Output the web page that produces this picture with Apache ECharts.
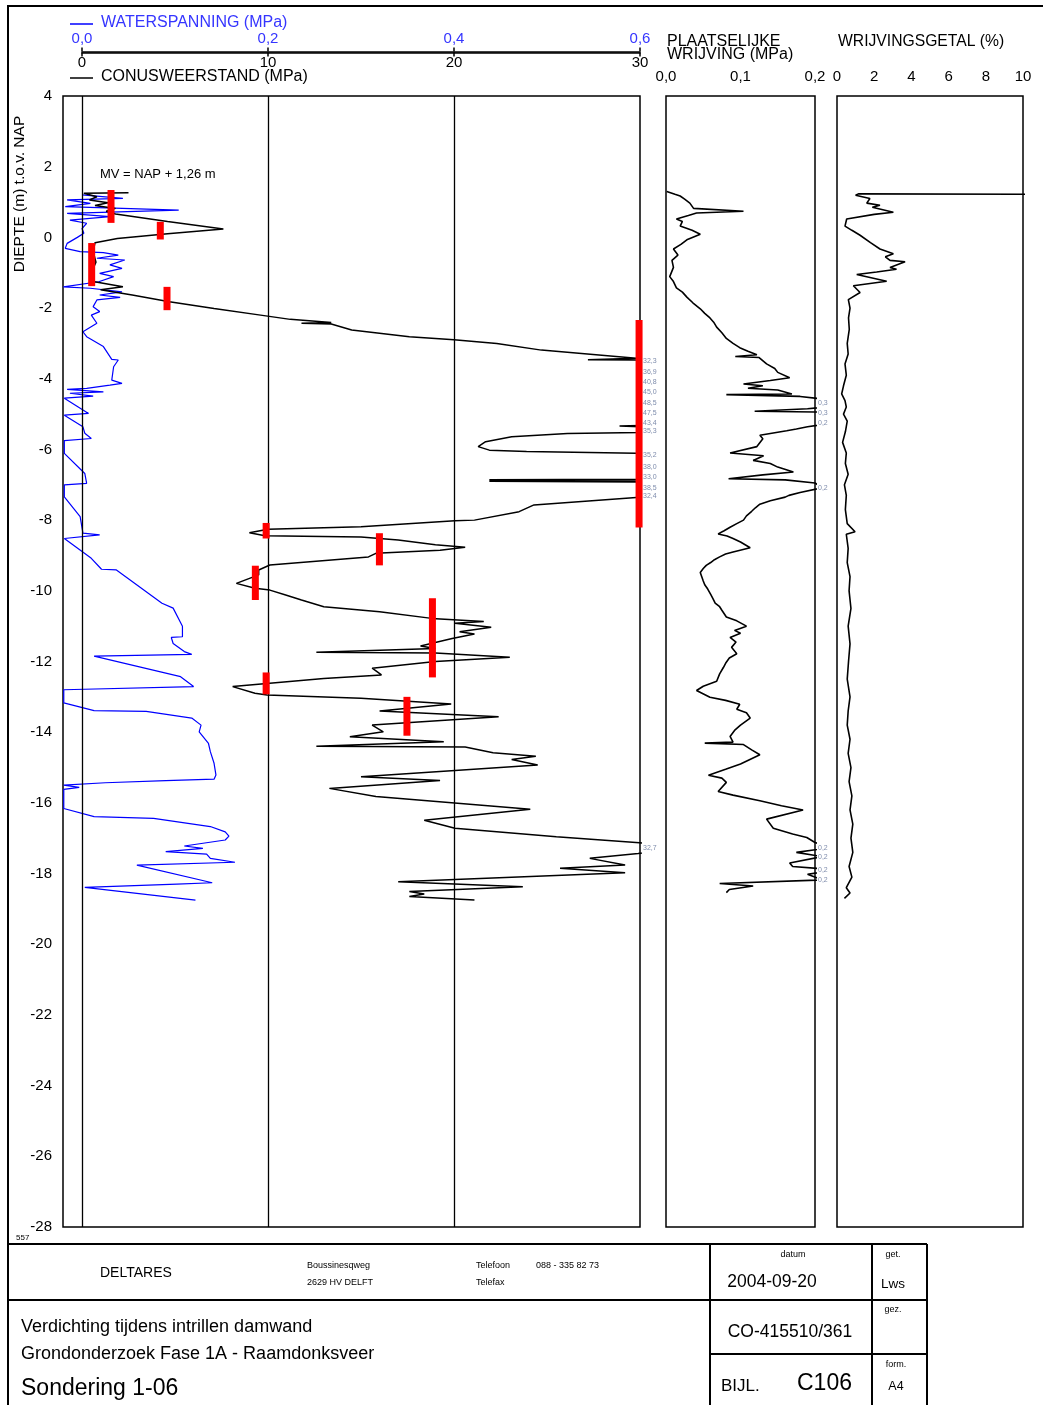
<!DOCTYPE html>
<html>
<head>
<meta charset="utf-8">
<title>Sondering 1-06</title>
<script src="https://cdn.jsdelivr.net/npm/echarts/dist/echarts.min.js"></script>
<style>
  html, body { margin: 0; padding: 0; background: #ffffff; }
  #chart { width: 1043px; height: 1405px; }
</style>
</head>
<body>
<div id="chart"></div>
<script>
// ---- Sounding data (depth in m t.o.v. NAP) ----
const surfaceLevel = 1.26;

// Depth axis
const depthMin = -28, depthMax = 4, depthStep = 2;

// Axis ranges
const qcMax = 30, qcStep = 10;        // conusweerstand (MPa)
const uMax = 0.6, uStep = 0.2;        // waterspanning (MPa)
const fsMax = 0.2, fsStep = 0.1;      // plaatselijke wrijving (MPa)
const rfMax = 10, rfStep = 2;         // wrijvingsgetal (%)

// Conusweerstand qc [MPa, depth]
const qcProfile = [
  [2.5,1.26],[0.1,1.25],[0.8,1.15],[0.4,1.06],[1.4,0.98],[0.7,0.9],[1.8,0.82],[1.3,0.74],[1.8,0.66],
  [4.6,0.45],[7.6,0.24],[4.6,0.1],[1.9,-0.03],[0.7,-0.15],[0.6,-0.4],[0.75,-0.7],[0.5,-1.0],[0.6,-1.25],
  [2.2,-1.4],[1.0,-1.48],[2.7,-1.63],[4.7,-1.82],[7.1,-2.01],[9.6,-2.2],[11.2,-2.32],[13.4,-2.41],
  [11.8,-2.43],[13.4,-2.45],[14.5,-2.62],[17.6,-2.81],[20.0,-2.9],[22.3,-3.0],[24.7,-3.19],[29.8,-3.42],
  [27.2,-3.46],[29.9,-3.47],[32.3,-3.49],[36.9,-3.8],[40.8,-4.09],[45.0,-4.38],[48.5,-4.7],[47.5,-4.96],
  [43.4,-5.26],[30,-5.32],[28.9,-5.34],[30,-5.36],[35.3,-5.47],[30,-5.52],[26.1,-5.55],[23.1,-5.64],
  [21.7,-5.78],[21.3,-5.92],[21.9,-6.02],[23.9,-6.06],[29.8,-6.11],[35.2,-6.17],[38.0,-6.49],[33.0,-6.77],
  [30,-6.84],[21.9,-6.86],[30,-6.88],[21.9,-6.9],[30,-6.92],[38.5,-7.08],[32.4,-7.33],[29.8,-7.36],
  [24.3,-7.57],[23.5,-7.76],[21.1,-8.0],[20.05,-8.02],[15.0,-8.19],[10.0,-8.26],[9.0,-8.36],[9.84,-8.44],
  [15.0,-8.48],[17.0,-8.56],[19.0,-8.7],[20.6,-8.77],[19.25,-8.85],[15.8,-8.94],[15.4,-9.04],[10.1,-9.27],
  [9.5,-9.41],[9.5,-9.55],[8.3,-9.79],[9.3,-9.93],[10.1,-9.98],[10.95,-10.12],[11.8,-10.26],[13.0,-10.45],
  [16.0,-10.59],[18.8,-10.78],[21.6,-10.87],[20.05,-10.92],[22.0,-11.03],[20.3,-11.16],[21.1,-11.22],
  [19.9,-11.35],[18.2,-11.56],[19.0,-11.63],[12.6,-11.74],[19.0,-11.76],[23.0,-11.88],[19.0,-12.0],
  [15.6,-12.19],[16.1,-12.38],[13.0,-12.48],[8.1,-12.71],[9.3,-12.9],[9.95,-12.95],[15.0,-13.04],
  [19.85,-13.2],[16.0,-13.4],[22.4,-13.56],[15.6,-13.8],[16.2,-13.99],[14.4,-14.13],[19.45,-14.27],
  [12.6,-14.4],[20.6,-14.42],[22.1,-14.58],[24.4,-14.68],[23.1,-14.77],[24.5,-14.93],[15.0,-15.26],
  [19.25,-15.37],[13.3,-15.59],[15.8,-15.82],[24.1,-16.18],[18.4,-16.49],[20.05,-16.72],[25.5,-16.96],
  [29.97,-17.13],[32.7,-17.27],[29.9,-17.43],[27.3,-17.57],[29.2,-17.76],[25.7,-17.85],[29.2,-17.98],
  [17.0,-18.23],[23.7,-18.37],[17.6,-18.51],[18.4,-18.58],[17.6,-18.65],[21.1,-18.75]
];

// Waterspanning u2 [MPa, depth]
const uProfile = [
  [0.0,1.2],[0.044,1.105],[-0.016,1.06],[0.009,0.96],[-0.018,0.87],[0.035,0.83],[0.104,0.77],[-0.016,0.68],
  [0.030,0.585],[-0.013,0.49],[0.005,0.40],[0.0,0.25],[0.002,0.115],[-0.005,0.0],[-0.016,-0.17],[-0.018,-0.31],
  [-0.002,-0.405],[0.023,-0.43],[0.039,-0.50],[0.016,-0.59],[0.046,-0.64],[0.030,-0.78],[0.043,-0.875],
  [0.019,-1.02],[0.034,-1.11],[0.018,-1.255],[-0.020,-1.40],[0.009,-1.44],[0.043,-1.54],[0.019,-1.63],
  [0.041,-1.70],[0.016,-1.77],[0.012,-1.96],[0.019,-2.10],[0.010,-2.20],[0.016,-2.43],[0.001,-2.67],
  [0.005,-2.81],[0.023,-3.09],[0.032,-3.45],[0.039,-3.47],[0.034,-3.66],[0.032,-4.04],[0.043,-4.13],
  [0.030,-4.18],[0.005,-4.27],[-0.016,-4.30],[0.023,-4.37],[-0.013,-4.41],[0.012,-4.49],[-0.019,-4.55],
  [0.007,-4.98],[-0.019,-5.03],[0.001,-5.36],[0.003,-5.54],[0.010,-5.69],[-0.019,-5.75],[-0.019,-6.11],
  [0.003,-6.68],[0.005,-6.96],[-0.019,-7.0],[-0.019,-7.34],[-0.002,-7.9],[0.001,-8.37],[0.019,-8.42],
  [-0.019,-8.52],[0.010,-9.08],[0.021,-9.39],[0.037,-9.41],[0.086,-10.35],[0.098,-10.49],[0.108,-11.0],
  [0.108,-11.30],[0.096,-11.32],[0.098,-11.49],[0.110,-11.72],[0.118,-11.80],[0.013,-11.85],[0.106,-12.43],
  [0.120,-12.71],[-0.0196,-12.80],[-0.0196,-13.17],[0.013,-13.39],[0.069,-13.41],[0.118,-13.6],[0.128,-13.8],
  [0.126,-13.99],[0.136,-14.32],[0.138,-14.55],[0.142,-14.88],[0.144,-15.21],[0.142,-15.33],[0.090,-15.37],
  [0.025,-15.43],[-0.0196,-15.50],[-0.003,-15.56],[-0.0196,-15.62],[-0.0196,-16.16],[0.013,-16.39],
  [0.077,-16.44],[0.138,-16.67],[0.154,-16.82],[0.158,-16.94],[0.154,-17.05],[0.110,-17.22],[0.130,-17.29],
  [0.090,-17.38],[0.134,-17.45],[0.138,-17.57],[0.1645,-17.68],[0.059,-17.76],[0.140,-18.26],[0.102,-18.30],
  [0.003,-18.39],[0.122,-18.75]
];

// Plaatselijke wrijving fs [MPa, depth]
const fsProfile = [
  [0.001,1.30],[0.012,1.22],[0.019,1.17],[0.025,1.08],[0.032,0.97],[0.037,0.82],[0.104,0.74],[0.041,0.69],
  [0.03,0.62],[0.014,0.52],[0.022,0.45],[0.019,0.32],[0.035,0.2],[0.046,0.09],[0.028,-0.07],[0.02,-0.2],
  [0.010,-0.33],[0.016,-0.5],[0.008,-0.65],[0.010,-0.85],[0.005,-1.11],[0.01,-1.25],[0.014,-1.43],
  [0.022,-1.55],[0.028,-1.69],[0.036,-1.85],[0.046,-2.02],[0.052,-2.15],[0.059,-2.28],[0.064,-2.4],
  [0.068,-2.54],[0.075,-2.7],[0.081,-2.86],[0.09,-3.0],[0.099,-3.12],[0.11,-3.22],[0.122,-3.32],
  [0.093,-3.37],[0.125,-3.4],[0.135,-3.58],[0.146,-3.71],[0.15,-3.82],[0.166,-3.97],[0.14,-4.05],
  [0.104,-4.15],[0.13,-4.2],[0.11,-4.27],[0.15,-4.32],[0.169,-4.43],[0.081,-4.45],[0.18,-4.5],[0.26,-4.70],
  [0.19,-4.85],[0.119,-4.92],[0.2,-4.94],[0.27,-4.96],[0.22,-5.26],[0.19,-5.36],[0.175,-5.42],[0.162,-5.47],
  [0.126,-5.6],[0.13,-5.7],[0.122,-5.92],[0.086,-6.1],[0.131,-6.18],[0.117,-6.31],[0.14,-6.4],[0.15,-6.5],
  [0.171,-6.64],[0.13,-6.72],[0.084,-6.83],[0.16,-6.86],[0.2,-6.95],[0.21,-7.08],[0.18,-7.22],[0.165,-7.3],
  [0.16,-7.35],[0.14,-7.45],[0.126,-7.55],[0.12,-7.65],[0.115,-7.75],[0.108,-7.88],[0.104,-8.0],[0.095,-8.1],
  [0.086,-8.2],[0.078,-8.3],[0.07,-8.39],[0.082,-8.45],[0.09,-8.52],[0.1,-8.62],[0.113,-8.78],[0.09,-8.9],
  [0.08,-8.96],[0.072,-9.04],[0.065,-9.12],[0.06,-9.2],[0.054,-9.28],[0.050,-9.37],[0.046,-9.48],[0.048,-9.6],
  [0.05,-9.72],[0.052,-9.83],[0.056,-9.95],[0.06,-10.1],[0.063,-10.22],[0.066,-10.35],[0.072,-10.45],
  [0.075,-10.55],[0.081,-10.74],[0.095,-10.85],[0.108,-11.0],[0.092,-11.12],[0.1,-11.2],[0.086,-11.32],
  [0.094,-11.45],[0.088,-11.6],[0.095,-11.78],[0.085,-11.9],[0.08,-12.05],[0.077,-12.17],[0.072,-12.35],
  [0.068,-12.56],[0.05,-12.7],[0.041,-12.82],[0.059,-13.01],[0.08,-13.1],[0.099,-13.21],[0.095,-13.35],
  [0.108,-13.45],[0.113,-13.6],[0.1,-13.8],[0.092,-13.95],[0.086,-14.12],[0.09,-14.28],[0.052,-14.31],
  [0.104,-14.35],[0.115,-14.5],[0.126,-14.64],[0.1,-14.9],[0.08,-15.05],[0.057,-15.22],[0.075,-15.3],
  [0.081,-15.42],[0.07,-15.68],[0.09,-15.78],[0.126,-15.94],[0.155,-16.08],[0.184,-16.2],[0.135,-16.46],
  [0.144,-16.72],[0.17,-16.88],[0.189,-16.98],[0.2,-17.12],[0.22,-17.27],[0.175,-17.4],[0.21,-17.52],
  [0.166,-17.7],[0.17,-17.8],[0.23,-17.90],[0.19,-18.02],[0.21,-18.18],[0.072,-18.28],[0.117,-18.35],
  [0.085,-18.45],[0.081,-18.54]
];

// Wrijvingsgetal Rf [%, depth]
const rfProfile = [
  [12,1.22],[1.15,1.23],[1.0,1.19],[1.77,1.10],[1.6,0.97],[2.31,0.91],[1.9,0.85],[3.03,0.71],[2.0,0.65],
  [0.52,0.52],[0.43,0.32],[0.8,0.2],[1.24,0.06],[1.8,-0.15],[2.31,-0.33],[3.03,-0.46],[2.6,-0.55],
  [2.85,-0.65],[3.66,-0.69],[2.85,-0.85],[3.2,-0.9],[2.13,-0.98],[1.06,-1.05],[2.67,-1.24],[0.88,-1.37],
  [1.24,-1.56],[0.61,-1.76],[0.7,-2.0],[0.62,-2.28],[0.66,-2.6],[0.55,-3.0],[0.6,-3.3],[0.43,-3.58],
  [0.5,-3.9],[0.35,-4.2],[0.25,-4.43],[0.43,-4.62],[0.5,-4.8],[0.35,-5.0],[0.55,-5.2],[0.45,-5.5],
  [0.3,-5.8],[0.5,-6.1],[0.45,-6.4],[0.6,-6.7],[0.4,-7.0],[0.5,-7.3],[0.45,-7.7],[0.55,-8.1],[0.97,-8.33],
  [0.5,-8.4],[0.6,-8.8],[0.55,-9.2],[0.7,-9.6],[0.65,-10.0],[0.75,-10.5],[0.6,-11.0],[0.7,-11.5],
  [0.62,-12.0],[0.55,-12.5],[0.7,-13.0],[0.6,-13.4],[0.55,-13.8],[0.7,-14.2],[0.6,-14.6],[0.75,-15.0],
  [0.65,-15.4],[0.8,-15.8],[0.7,-16.2],[0.85,-16.6],[0.75,-17.0],[0.85,-17.4],[0.65,-17.8],[0.8,-18.1],
  [0.5,-18.4],[0.7,-18.55],[0.4,-18.7]
];

// Marked intervals on the qc profile [qc, top depth, bottom depth]
const markQc     = [1.56, 4.21, 0.52, 4.57, 29.95, 9.9, 15.99, 9.32, 18.84, 9.9, 17.47];
const markTop    = [1.34, 0.44, -0.16, -1.40, -2.34, -8.08, -8.37, -9.29, -10.21, -12.31, -13.0];
const markBottom = [0.41, -0.06, -1.38, -2.06, -8.21, -8.52, -9.28, -10.26, -12.45, -12.93, -14.1];

// ---- Layout ----
const FONT = '"Liberation Sans", Arial, sans-serif';
const BLUE = '#0000ff';
const BLUE_TEXT = '#3535ff';
const OVER_COLOR = '#5d6e96';

const mainLeft = 63, qcZeroX = 82, mainRight = 640;
const panelTop = 96, panelBottom = 1227;
const qcMin = -qcMax * (qcZeroX - mainLeft) / (mainRight - qcZeroX);
const uMin = -uMax * (qcZeroX - mainLeft) / (mainRight - qcZeroX);

const comma = d => v => Number(v).toFixed(d).replace('.', ',');

const qcOver = qcProfile.filter(p => p[0] > qcMax).map(p => [qcMax, p[1], p[0]]);
const fsOver = fsProfile.filter(p => p[0] > fsMax).map(p => [fsMax, p[1], p[0]]);
const marks = markQc.map((q, i) => [q, markTop[i], markBottom[i]]);

const depthAxis = (gridIndex, visible) => ({
  gridIndex, type: 'value', min: depthMin, max: depthMax, interval: depthStep,
  show: visible,
  axisLine: { show: false }, axisTick: { show: false }, splitLine: { show: false },
  axisLabel: { show: visible, margin: 11, fontSize: 15, fontFamily: FONT, color: '#000',
               showMinLabel: true, showMaxLabel: true }
});

const topLabelAxis = (gridIndex, max, step, fmt) => ({
  gridIndex, type: 'value', min: 0, max, interval: step, position: 'top',
  axisLine: { show: false }, axisTick: { show: false }, splitLine: { show: false },
  axisLabel: { margin: 12, fontSize: 15, fontFamily: FONT, color: '#000', formatter: fmt,
               showMinLabel: true, showMaxLabel: true }
});

const panelGrid = (left, width) => ({
  left, top: panelTop, width, height: panelBottom - panelTop,
  show: true, borderColor: '#000', borderWidth: 1.5, backgroundColor: 'transparent'
});

const overLabel = {
  show: true, position: 'right', distance: 3, fontSize: 7, fontFamily: FONT, color: OVER_COLOR,
  formatter: p => comma(1)(p.value[2])
};

const txt = (text, x, y, size, extra, rotation) => ({
  type: 'text', x, y, rotation: rotation || 0, silent: true,
  style: Object.assign({
    text, fill: '#000', fontSize: size, fontFamily: FONT,
    textAlign: 'left', textVerticalAlign: 'middle', verticalAlign: 'middle'
  }, extra || {})
});
const seg = (x1, y1, x2, y2, color, w) => ({
  type: 'line', silent: true,
  shape: { x1, y1, x2, y2 },
  style: { stroke: color || '#000', lineWidth: w || 2 }
});

const chart = echarts.init(document.getElementById('chart'), null, { renderer: 'canvas' });

chart.setOption({
  animation: false,
  backgroundColor: '#ffffff',
  grid: [
    panelGrid(mainLeft, mainRight - mainLeft),
    panelGrid(666, 149),
    panelGrid(837, 186),
    { left: qcZeroX, top: 51.5, width: mainRight - qcZeroX, height: 1, show: false }
  ],
  xAxis: [
    { gridIndex: 0, type: 'value', min: qcMin, max: qcMax, show: false, splitLine: { show: false } },
    { gridIndex: 0, type: 'value', min: uMin, max: uMax, show: false, splitLine: { show: false } },
    topLabelAxis(1, fsMax, fsStep, comma(1)),
    topLabelAxis(2, rfMax, rfStep, v => String(v)),
    {
      gridIndex: 3, type: 'value', min: 0, max: qcMax, interval: qcStep, position: 'bottom',
      axisLine: { show: true, lineStyle: { color: '#000', width: 1.5 } },
      axisTick: { show: true, length: 4, lineStyle: { color: '#000', width: 1.5 } },
      splitLine: { show: false },
      axisLabel: { margin: 3, fontSize: 15, fontFamily: FONT, color: '#000',
                   showMinLabel: true, showMaxLabel: true }
    },
    {
      gridIndex: 3, type: 'value', min: 0, max: uMax, interval: uStep, position: 'top',
      axisLine: { show: true, lineStyle: { color: '#000', width: 1.5 } },
      axisTick: { show: true, length: 4, lineStyle: { color: '#000', width: 1.5 } },
      splitLine: { show: false },
      axisLabel: { margin: 5, fontSize: 15, fontFamily: FONT, color: BLUE_TEXT, formatter: comma(1),
                   showMinLabel: true, showMaxLabel: true }
    }
  ],
  yAxis: [
    depthAxis(0, true),
    depthAxis(1, false),
    depthAxis(2, false),
    { gridIndex: 3, type: 'value', min: 0, max: 1, show: false }
  ],
  series: [
    {
      name: 'waterspanning', type: 'line', xAxisIndex: 1, yAxisIndex: 0,
      data: uProfile, symbol: 'none', clip: true, z: 2,
      lineStyle: { color: BLUE, width: 1.2 }
    },
    {
      name: 'conusweerstand', type: 'line', xAxisIndex: 0, yAxisIndex: 0,
      data: qcProfile, symbol: 'none', clip: true, z: 3,
      lineStyle: { color: '#000', width: 1.5 },
      markLine: {
        silent: true, symbol: 'none', label: { show: false },
        lineStyle: { color: '#000', type: 'solid', width: 1.3 },
        data: [{ xAxis: 0 }, { xAxis: qcStep }, { xAxis: 2 * qcStep }]
      }
    },
    {
      name: 'intervallen', type: 'custom', xAxisIndex: 0, yAxisIndex: 0, z: 5,
      data: marks, encode: { x: 0, y: [1, 2] },
      renderItem: (params, api) => {
        const p1 = api.coord([api.value(0), api.value(1)]);
        const p2 = api.coord([api.value(0), api.value(2)]);
        return { type: 'rect', shape: { x: p1[0] - 3.5, y: p1[1], width: 7, height: p2[1] - p1[1] },
                 style: { fill: '#ff0000' } };
      }
    },
    {
      name: 'qc boven schaal', type: 'scatter', xAxisIndex: 0, yAxisIndex: 0,
      data: qcOver, symbolSize: 0, clip: false, silent: true, label: overLabel
    },
    {
      name: 'plaatselijke wrijving', type: 'line', xAxisIndex: 2, yAxisIndex: 1,
      data: fsProfile, symbol: 'none', clip: true,
      lineStyle: { color: '#000', width: 1.6 }
    },
    {
      name: 'fs boven schaal', type: 'scatter', xAxisIndex: 2, yAxisIndex: 1,
      data: fsOver, symbolSize: 0, clip: false, silent: true, label: overLabel
    },
    {
      name: 'wrijvingsgetal', type: 'line', xAxisIndex: 3, yAxisIndex: 2,
      data: rfProfile, symbol: 'none', clip: true,
      lineStyle: { color: '#000', width: 1.6 }
    }
  ],
  graphic: [
    // page frame
    { type: 'polyline', silent: true, shape: { points: [[8, 1405], [8, 6], [1043, 6]] },
      style: { stroke: '#000', lineWidth: 2, fill: null } },

    // header legends and titles
    seg(70, 24, 93, 24, BLUE, 1.5),
    txt('WATERSPANNING (MPa)', 101, 23, 16, { fill: BLUE_TEXT }),
    seg(70, 78, 93, 78, '#000', 1.5),
    txt('CONUSWEERSTAND (MPa)', 101, 77, 16),
    txt('PLAATSELIJKE', 667, 42, 16),
    txt('WRIJVING (MPa)', 667, 55, 16),
    txt('WRIJVINGSGETAL (%)', 838, 42, 15.7),
    txt('DIEPTE (m) t.o.v. NAP', 20, 194, 15.5, { textAlign: 'center' }, Math.PI / 2),
    txt('MV = NAP + ' + comma(2)(surfaceLevel) + ' m', 100, 174, 13),
    txt('557', 16, 1238, 8),

    // title block
    seg(8, 1244, 927, 1244), seg(8, 1300, 927, 1300), seg(710, 1354, 927, 1354),
    seg(710, 1244, 710, 1405), seg(872, 1244, 872, 1405), seg(927, 1244, 927, 1405),
    txt('DELTARES', 100, 1273, 14),
    txt('Boussinesqweg', 307, 1266, 9),
    txt('2629 HV DELFT', 307, 1283, 9),
    txt('Telefoon', 476, 1266, 9),
    txt('088 - 335 82 73', 536, 1266, 9),
    txt('Telefax', 476, 1283, 9),
    txt('datum', 793, 1255, 9, { textAlign: 'center' }),
    txt('2004-09-20', 772, 1282, 17.5, { textAlign: 'center' }),
    txt('get.', 893, 1255, 9, { textAlign: 'center' }),
    txt('Lws', 893, 1284, 13.5, { textAlign: 'center' }),
    txt('gez.', 893, 1310, 9, { textAlign: 'center' }),
    txt('CO-415510/361', 790, 1332, 17.5, { textAlign: 'center' }),
    txt('form.', 896, 1365, 9, { textAlign: 'center' }),
    txt('A4', 896, 1387, 12.5, { textAlign: 'center' }),
    txt('BIJL.', 721, 1386, 17),
    txt('C106', 797, 1384, 23),
    txt('Verdichting tijdens intrillen damwand', 21, 1327, 18),
    txt('Grondonderzoek Fase 1A - Raamdonksveer', 21, 1354, 18),
    txt('Sondering 1-06', 21, 1389, 23)
  ]
});
</script>
</body>
</html>
